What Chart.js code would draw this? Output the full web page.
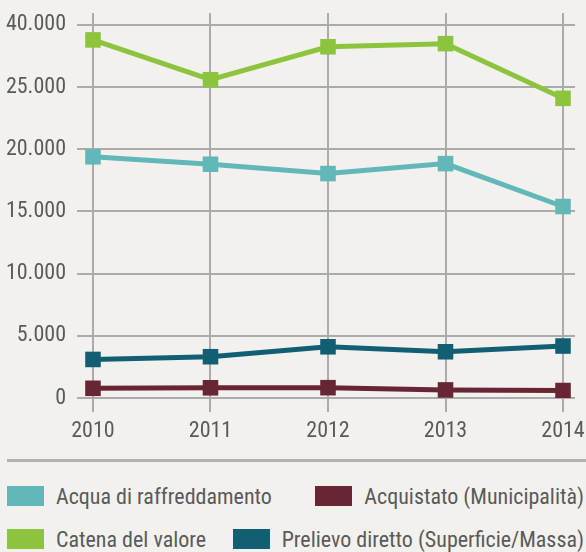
<!DOCTYPE html>
<html>
<head>
<meta charset="utf-8">
<script src="https://cdn.jsdelivr.net/npm/chart.js@4/dist/chart.umd.min.js"></script>
<style>
  html, body { margin: 0; padding: 0; background: #f2f1ee; overflow: hidden; }
  body { width: 586px; height: 552px; position: relative;
         font-family: "Roboto Condensed", "Liberation Sans", sans-serif; }
  #wrap { position: absolute; left: 0; top: 0; width: 586px; height: 452px; }
  #rule { position: absolute; left: 7px; top: 459px; width: 579px; height: 0; border-top: 3px solid #b2b1af; }
  .row { position: absolute; left: 7px; width: 577px; height: 26px; display: flex;
         justify-content: space-between; align-items: center; }
  .item { display: flex; align-items: center; white-space: nowrap; font-size: 22px; color: #5a5a5a; }
  .item span.box { display: inline-block; width: 37px; height: 20px; margin-right: 12px; }
</style>
</head>
<body>
<div id="wrap"><canvas id="chart"></canvas></div>
<div id="rule"></div>
<div id="legend"></div>
<script>
  const years = [2010, 2011, 2012, 2013, 2014];
  const acquaRaffreddamento = [19400, 18800, 18050, 18850, 15400];
  const acquistato = [780, 820, 830, 650, 600];
  const catenaValore = [28800, 25600, 28250, 28500, 24100];
  const prelievoDiretto = [3100, 3320, 4120, 3720, 4180];
  // the top gridline carries a break label
  const yTickValues = [0, 5000, 10000, 15000, 20000, 25000, 30000];
  const yTickLabels = ["0", "5.000", "10.000", "15.000", "20.000", "25.000", "40.000"];

  const series = [
    { label: "Acqua di raffreddamento", data: acquaRaffreddamento, color: "#62b7b8" },
    { label: "Acquistato (Municipalità)", data: acquistato, color: "#682533" },
    { label: "Catena del valore", data: catenaValore, color: "#8cc43e" },
    { label: "Prelievo diretto (Superficie/Massa)", data: prelievoDiretto, color: "#125f74" },
  ];
  // legend rows: [left item, right item], with the vertical centre of each row
  const legendRows = [[0, 1, 496], [2, 3, 539]];

  const fontFamily = '"Roboto Condensed", "Liberation Sans", sans-serif';
  const gridColor = "#ababab";
  const tickColor = "#5a5a5a";

  const datasets = series.map((s) => ({
    label: s.label,
    data: years.map((yr, i) => ({ x: yr, y: s.data[i] })),
    borderColor: s.color,
    backgroundColor: s.color,
    borderWidth: 5,
    pointStyle: "rect",
    pointRadius: 11,
    pointBorderWidth: 0,
    pointBackgroundColor: s.color,
    tension: 0,
    fill: false,
  }));
  const drawOrder = [3, 1, 0, 2];

  new Chart(document.getElementById("chart"), {
    type: "line",
    data: { datasets: drawOrder.map((i) => datasets[i]) },
    options: {
      responsive: true,
      maintainAspectRatio: false,
      animation: false,
      layout: { padding: { top: 13, left: 0, right: 0, bottom: 0 } },
      plugins: { legend: { display: false }, tooltip: { enabled: false } },
      scales: {
        x: {
          type: "linear",
          min: 2009.864,
          max: 2014.102,
          afterBuildTicks: (scale) => { scale.ticks = years.map((v) => ({ value: v })); },
          afterFit: (scale) => { scale.paddingRight = 0; scale.paddingLeft = 0; scale.height = 54; },
          grid: { color: gridColor, lineWidth: 2, tickLength: 14, tickColor: gridColor },
          border: { display: false },
          ticks: {
            callback: (v) => String(v),
            color: tickColor,
            font: { family: fontFamily, size: 22 },
            padding: 6,
            maxRotation: 0,
          },
        },
        y: {
          min: 0,
          max: 30965,
          afterBuildTicks: (scale) => { scale.ticks = yTickValues.map((v) => ({ value: v })); },
          afterFit: (scale) => { scale.width = 77; scale.paddingTop = 0; scale.paddingBottom = 0; },
          grid: { color: gridColor, lineWidth: 2, drawTicks: false },
          border: { display: false },
          ticks: {
            callback: (v) => yTickLabels[yTickValues.indexOf(v)],
            color: tickColor,
            font: { family: fontFamily, size: 22 },
            padding: 11,
          },
        },
      },
    },
  });

  function legendItem(s) {
    const item = document.createElement("div");
    item.className = "item";
    const box = document.createElement("span");
    box.className = "box";
    box.style.background = s.color;
    item.appendChild(box);
    item.appendChild(document.createTextNode(s.label));
    return item;
  }

  const legend = document.getElementById("legend");
  legendRows.forEach(([a, b, cy]) => {
    const row = document.createElement("div");
    row.className = "row";
    row.style.top = (cy - 13) + "px";
    row.appendChild(legendItem(series[a]));
    row.appendChild(legendItem(series[b]));
    legend.appendChild(row);
  });
</script>
</body>
</html>
